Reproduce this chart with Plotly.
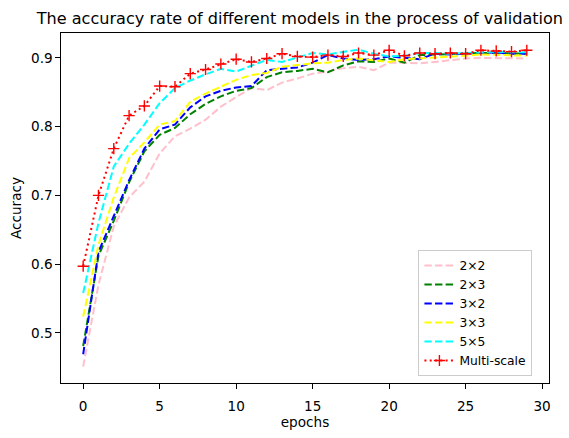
import plotly.graph_objects as go

epochs = list(range(30))

acc_2x2 = [0.451, 0.570, 0.655, 0.697, 0.720, 0.761, 0.786, 0.797, 0.810, 0.829, 0.843, 0.856, 0.853, 0.864, 0.870,
           0.877, 0.880, 0.885, 0.887, 0.882, 0.893, 0.893, 0.892, 0.894, 0.897, 0.899, 0.900, 0.900, 0.900, 0.899]
acc_2x3 = [0.481, 0.612, 0.663, 0.719, 0.764, 0.788, 0.798, 0.818, 0.833, 0.844, 0.852, 0.856, 0.872, 0.879, 0.881,
           0.884, 0.879, 0.889, 0.895, 0.894, 0.899, 0.893, 0.904, 0.905, 0.906, 0.906, 0.907, 0.907, 0.906, 0.906]
acc_3x2 = [0.469, 0.618, 0.670, 0.722, 0.768, 0.796, 0.803, 0.828, 0.844, 0.852, 0.857, 0.859, 0.882, 0.884, 0.886,
           0.893, 0.904, 0.899, 0.897, 0.898, 0.902, 0.900, 0.898, 0.906, 0.905, 0.906, 0.907, 0.908, 0.906, 0.906]
acc_3x3 = [0.524, 0.628, 0.697, 0.754, 0.777, 0.803, 0.808, 0.836, 0.848, 0.858, 0.868, 0.875, 0.878, 0.887, 0.890,
           0.892, 0.893, 0.897, 0.899, 0.896, 0.894, 0.898, 0.899, 0.900, 0.901, 0.903, 0.905, 0.904, 0.903, 0.903]
acc_5x5 = [0.558, 0.660, 0.742, 0.775, 0.803, 0.834, 0.856, 0.867, 0.876, 0.884, 0.880, 0.888, 0.897, 0.894, 0.901,
           0.907, 0.905, 0.908, 0.912, 0.906, 0.902, 0.903, 0.907, 0.907, 0.906, 0.907, 0.908, 0.909, 0.908, 0.908]
acc_multi = [0.597, 0.700, 0.768, 0.816, 0.830, 0.859, 0.858, 0.877, 0.883, 0.891, 0.898, 0.894, 0.899, 0.906, 0.902,
             0.901, 0.904, 0.902, 0.907, 0.904, 0.911, 0.903, 0.907, 0.906, 0.907, 0.906, 0.911, 0.910, 0.909, 0.911]

series = [
    ("2×2", acc_2x2, "pink"),
    ("2×3", acc_2x3, "green"),
    ("3×2", acc_3x2, "blue"),
    ("3×3", acc_3x3, "yellow"),
    ("5×5", acc_5x5, "cyan"),
]

FONT = "DejaVu Sans"
FS = 13.6
LFS = 12.3
fig = go.Figure()
for name, vals, color in series:
    fig.add_trace(go.Scatter(x=epochs, y=vals, name=name, mode="lines",
                             line=dict(color=color, width=2.0, dash="7.4px,3.2px")))
fig.add_trace(go.Scatter(x=epochs, y=acc_multi, name="Multi-scale", mode="lines+markers",
                         line=dict(color="red", width=2.0, dash="2px,3.3px"),
                         marker=dict(symbol="cross-thin", size=8, color="red",
                                     line=dict(color="red", width=1.4))))

axis_common = dict(showline=True, mirror=True, linecolor="black", linewidth=1.1,
                   ticks="outside", ticklen=4.5, tickwidth=1.1, tickcolor="black",
                   showgrid=False, zeroline=False,
                   tickfont=dict(family=FONT, size=FS, color="black"))

fig.update_layout(
    width=569, height=438,
    margin=dict(l=60.5, r=20.4, t=32.7, b=44.7),
    paper_bgcolor="white", plot_bgcolor="white",
    font=dict(family=FONT, size=FS, color="black"),
    title=dict(text="The accuracy rate of different models in the process of validation",
               x=0.527, xanchor="center", y=0.959, yanchor="middle",
               font=dict(family=FONT, size=16.1, color="black")),
    xaxis=dict(range=[-1.45, 30.45], tickvals=[0, 5, 10, 15, 20, 25, 30],
               ticklabelstandoff=6,
               title=dict(text="epochs", standoff=3, font=dict(family=FONT, size=FS)),
               **axis_common),
    yaxis=dict(range=[0.4272, 0.9361], tickvals=[0.5, 0.6, 0.7, 0.8, 0.9],
               ticktext=["0.5", "0.6", "0.7", "0.8", "0.9"],
               title=dict(text="Accuracy", standoff=6, font=dict(family=FONT, size=FS)),
               **axis_common),
    legend=dict(x=0.966, y=0.02, xanchor="right", yanchor="bottom",
                bgcolor="rgba(255,255,255,0.8)", bordercolor="#cccccc", borderwidth=1,
                font=dict(family=FONT, size=LFS, color="black"), tracegroupgap=0,
                entrywidth=118, entrywidthmode="pixels"),
    showlegend=True,
)

fig.write_html("out.html", config={"displayModeBar": False},
               post_script="document.body.style.margin='0px';")
